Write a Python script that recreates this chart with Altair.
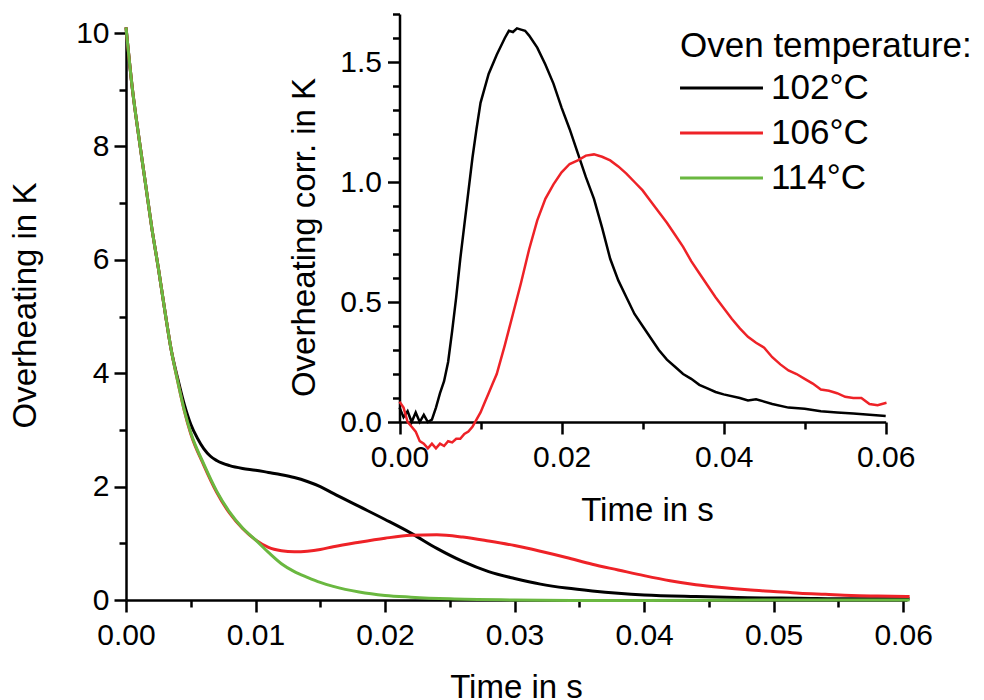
import altair as alt
import pandas as pd

# ---------------- main plot data (time in s, overheating in K) ----------------
t_102 = [0, 0.0005, 0.001, 0.0015, 0.002, 0.0025, 0.003, 0.0035, 0.004, 0.0045, 0.005, 0.0055,
         0.006, 0.0065, 0.007, 0.008, 0.009, 0.010, 0.011, 0.012, 0.013, 0.014, 0.015, 0.016,
         0.018, 0.020, 0.022, 0.024, 0.026, 0.028, 0.030, 0.032, 0.034, 0.036, 0.038, 0.040,
         0.044, 0.048, 0.052, 0.056, 0.0605]
v_102 = [10.1, 9.0, 8.15, 7.35, 6.55, 5.85, 5.1, 4.4, 3.9, 3.45, 3.1, 2.86,
         2.67, 2.54, 2.46, 2.37, 2.32, 2.29, 2.25, 2.21, 2.16, 2.09, 2.0, 1.88,
         1.65, 1.42, 1.18, 0.91, 0.68, 0.5, 0.38, 0.28, 0.21, 0.16, 0.12, 0.09,
         0.06, 0.04, 0.03, 0.02, 0.02]

t_106 = [0, 0.0005, 0.001, 0.0015, 0.002, 0.0025, 0.003, 0.0035, 0.004, 0.0045, 0.005, 0.006,
         0.007, 0.008, 0.009, 0.010, 0.011, 0.012, 0.013, 0.014, 0.015, 0.016, 0.018, 0.020,
         0.022, 0.024, 0.026, 0.028, 0.030, 0.032, 0.034, 0.036, 0.038, 0.040, 0.042, 0.044,
         0.046, 0.048, 0.050, 0.052, 0.054, 0.056, 0.058, 0.0605]
v_106 = [10.1, 9.0, 8.15, 7.35, 6.55, 5.85, 5.1, 4.4, 3.85, 3.34, 2.93, 2.38,
         1.9, 1.53, 1.26, 1.06, 0.93, 0.87, 0.85, 0.86, 0.89, 0.94, 1.02, 1.09,
         1.14, 1.15, 1.11, 1.04, 0.96, 0.86, 0.75, 0.63, 0.53, 0.43, 0.34, 0.27,
         0.22, 0.18, 0.15, 0.12, 0.10, 0.08, 0.07, 0.06]

t_114 = [0, 0.0005, 0.001, 0.0015, 0.002, 0.0025, 0.003, 0.0035, 0.004, 0.0045, 0.005, 0.006,
         0.007, 0.008, 0.009, 0.010, 0.011, 0.012, 0.013, 0.014, 0.015, 0.016, 0.018, 0.020,
         0.022, 0.025, 0.030, 0.035, 0.040, 0.050, 0.0605]
v_114 = [10.1, 9.0, 8.15, 7.35, 6.55, 5.85, 5.1, 4.4, 3.85, 3.35, 2.95, 2.4,
         1.92, 1.55, 1.27, 1.06, 0.84, 0.64, 0.5, 0.4, 0.31, 0.24, 0.14, 0.08,
         0.05, 0.02, 0.0, -0.01, -0.01, 0.0, 0.0]

# ---------------- inset data (corrected overheating) ----------------
ti_102 = [0, 0.0005, 0.001, 0.0015, 0.002, 0.0025, 0.003, 0.0035, 0.004, 0.0045, 0.005, 0.0055,
          0.006, 0.0065, 0.007, 0.0075, 0.008, 0.0085, 0.009, 0.0095, 0.010, 0.011, 0.012, 0.013,
          0.0135, 0.014, 0.0145, 0.015, 0.0155, 0.016, 0.017, 0.018, 0.019, 0.020, 0.021, 0.022,
          0.023, 0.024, 0.025, 0.026, 0.027, 0.028, 0.029, 0.030, 0.031, 0.032, 0.033, 0.034,
          0.035, 0.036, 0.037, 0.038, 0.039, 0.040, 0.042, 0.043, 0.044, 0.046, 0.048, 0.050,
          0.052, 0.054, 0.056, 0.058, 0.060]
vi_102 = [0.06, 0.02, 0.045, 0.0, 0.04, 0.0, 0.03, 0.0, 0.01, 0.06, 0.12, 0.17,
          0.25, 0.38, 0.52, 0.68, 0.82, 0.96, 1.1, 1.22, 1.33, 1.45, 1.53, 1.6,
          1.63, 1.625, 1.64, 1.635, 1.63, 1.61, 1.56, 1.49, 1.41, 1.31, 1.22, 1.12,
          1.02, 0.93, 0.81, 0.68, 0.59, 0.52, 0.45, 0.40, 0.35, 0.30, 0.26, 0.23,
          0.20, 0.18, 0.155, 0.14, 0.125, 0.115, 0.1, 0.09, 0.095, 0.075, 0.06, 0.055,
          0.045, 0.04, 0.035, 0.03, 0.025]

ti_106 = [0, 0.0005, 0.001, 0.0015, 0.002, 0.0025, 0.003, 0.0035, 0.004, 0.0045, 0.005, 0.0055,
          0.006, 0.0065, 0.007, 0.0075, 0.008, 0.0085, 0.009, 0.0095, 0.010, 0.0105, 0.011, 0.0115,
          0.012, 0.013, 0.014, 0.015, 0.016, 0.017, 0.018, 0.019, 0.020, 0.021, 0.022, 0.023,
          0.024, 0.025, 0.026, 0.027, 0.028, 0.029, 0.030, 0.031, 0.032, 0.033, 0.034, 0.035,
          0.036, 0.037, 0.038, 0.039, 0.040, 0.041, 0.042, 0.043, 0.044, 0.045, 0.046, 0.047,
          0.048, 0.049, 0.050, 0.051, 0.052, 0.053, 0.054, 0.055, 0.056, 0.057, 0.058, 0.059, 0.0601]
vi_106 = [0.085, 0.06, 0.0, -0.02, -0.04, -0.08, -0.09, -0.11, -0.09, -0.11, -0.09, -0.1,
          -0.08, -0.085, -0.07, -0.07, -0.05, -0.04, -0.02, 0.01, 0.04, 0.08, 0.12, 0.16,
          0.2, 0.32, 0.45, 0.58, 0.72, 0.84, 0.93, 0.99, 1.04, 1.075, 1.09, 1.11,
          1.115, 1.105, 1.09, 1.065, 1.035, 1.0, 0.965, 0.92, 0.875, 0.83, 0.78, 0.73,
          0.67, 0.62, 0.57, 0.52, 0.475, 0.43, 0.39, 0.355, 0.33, 0.31, 0.27, 0.24,
          0.215, 0.2, 0.18, 0.16, 0.135, 0.13, 0.12, 0.105, 0.1, 0.1, 0.075, 0.07, 0.08]

series = ["102°C", "106°C", "114°C"]
colors = ["#000000", "#ee2227", "#6ab840"]

main_x_ticks = [0, 0.01, 0.02, 0.03, 0.04, 0.05, 0.06]
main_x_minor = [0.005, 0.015, 0.025, 0.035, 0.045, 0.055]
main_y_ticks = [0, 2, 4, 6, 8, 10]
main_y_minor = [1, 3, 5, 7, 9]
ins_x_ticks = [0, 0.02, 0.04, 0.06]
ins_x_minor = [0.01, 0.03, 0.05]
ins_y_ticks = [0, 0.5, 1.0, 1.5]
ins_y_minor = [0.1, 0.2, 0.3, 0.4, 0.6, 0.7, 0.8, 0.9, 1.1, 1.2, 1.3, 1.4, 1.6, 1.7]

def frame(ts, vs, name):
    return pd.DataFrame({"t": ts, "v": vs, "series": name})

main_df = pd.concat([frame(t_102, v_102, series[0]),
                     frame(t_106, v_106, series[1]),
                     frame(t_114, v_114, series[2])], ignore_index=True)
ins_df = pd.concat([frame(ti_102, vi_102, series[0]),
                    frame(ti_106, vi_106, series[1])], ignore_index=True)

FONT = "Liberation Sans"
W, H = 781, 567
# inset placement in plot coordinates (pixels)
INS_X = [273.5, 759.7]
INS_Y = [389, -19]

legend = alt.Legend(
    title="Oven temperature:", orient="none", legendX=554, legendY=-4, padding=0,
    titleFontSize=35, titleFont=FONT, titleFontWeight="normal", titleColor="black",
    titleLimit=0, titlePadding=6.4,
    labelFontSize=35, labelFont=FONT, labelColor="black", labelOffset=32,
    symbolType="M-4,0H4", symbolSize=430, symbolStrokeWidth=3, symbolOffset=24,
    rowPadding=9,
)
color = alt.Color("series:N", scale=alt.Scale(domain=series, range=colors), legend=legend)

common_axis = dict(labelFont=FONT, titleFont=FONT, labelColor="black", titleColor="black",
                   domainColor="black", tickColor="black", grid=False,
                   titleFontWeight="normal", domainWidth=2.5, tickWidth=2.5)

main_x = alt.X("t:Q", scale=alt.Scale(domain=[0, 0.0603], nice=False),
               axis=alt.Axis(values=main_x_ticks, format=".2f", labelFontSize=30, tickSize=12,
                             labelPadding=8, labelFlush=False, labelOverlap=False,
                             title="Time in s", titleFontSize=33, titleX=390, titleY=97,
                             titleBaseline="alphabetic", orient="bottom", **common_axis))
main_y = alt.Y("v:Q", scale=alt.Scale(domain=[0, 10], nice=False),
               axis=alt.Axis(values=main_y_ticks, format="d", labelFontSize=30, tickSize=12,
                             labelPadding=5, labelOverlap=False,
                             title="Overheating in K", titleFontSize=33, titleX=-90.5, titleY=272,
                             titleBaseline="alphabetic", orient="left", **common_axis))

main_lines = alt.Chart(main_df).mark_line(strokeWidth=3, interpolate="monotone").encode(
    x=main_x, y=main_y, color=color, detail="series:N")

minor_main = alt.Chart(main_df).mark_point(opacity=0).encode(
    x=alt.X("t:Q", scale=alt.Scale(domain=[0, 0.0603], nice=False),
            axis=alt.Axis(values=main_x_minor, labels=False, tickSize=7, domain=False,
                          title=None, orient="bottom", tickColor="black", tickWidth=2.5, grid=False)),
    y=alt.Y("v:Q", scale=alt.Scale(domain=[0, 10], nice=False),
            axis=alt.Axis(values=main_y_minor, labels=False, tickSize=7, domain=False,
                          title=None, orient="left", tickColor="black", tickWidth=2.5, grid=False)),
)

ins_x = alt.X("t:Q", scale=alt.Scale(domain=[0, 0.06], nice=False, range=INS_X),
              axis=alt.Axis(values=ins_x_ticks, format=".2f", labelFontSize=30, tickSize=12,
                            labelPadding=8, labelFlush=False, labelOverlap=False,
                            title="Time in s", titleFontSize=33, titleX=521, titleY=98,
                            titleBaseline="alphabetic", orient="bottom", offset=-178, **common_axis))
ins_y = alt.Y("v:Q", scale=alt.Scale(domain=[0, 1.7], nice=False, range=INS_Y),
              axis=alt.Axis(values=ins_y_ticks, format=".1f", labelFontSize=30, tickSize=12,
                            labelPadding=6, labelOverlap=False,
                            title="Overheating corr. in K", titleFontSize=33, titleX=-85.5, titleY=204,
                            titleBaseline="alphabetic", orient="left", offset=-273.5, **common_axis))

ins_lines = alt.Chart(ins_df).mark_line(strokeWidth=2.5).encode(
    x=ins_x, y=ins_y, color=color, detail="series:N")

minor_ins = alt.Chart(ins_df).mark_point(opacity=0).encode(
    x=alt.X("t:Q", scale=alt.Scale(domain=[0, 0.06], nice=False, range=INS_X),
            axis=alt.Axis(values=ins_x_minor, labels=False, tickSize=7, domain=False, title=None,
                          orient="bottom", offset=-178, tickColor="black", tickWidth=2.5, grid=False)),
    y=alt.Y("v:Q", scale=alt.Scale(domain=[0, 1.7], nice=False, range=INS_Y),
            axis=alt.Axis(values=ins_y_minor, labels=False, tickSize=7, domain=False, title=None,
                          orient="left", offset=-273.5, tickColor="black", tickWidth=2.5, grid=False)),
)

chart = alt.layer(minor_main, minor_ins, main_lines, ins_lines).resolve_scale(
    x="independent", y="independent"
).properties(
    width=W, height=H,
    padding={"left": 126, "top": 33, "right": 77, "bottom": 100},
    autosize=alt.AutoSizeParams(type="none"),
    background="white",
).configure_view(strokeWidth=0)

chart.save("out.html", embed_options={"renderer": "svg", "actions": False})
